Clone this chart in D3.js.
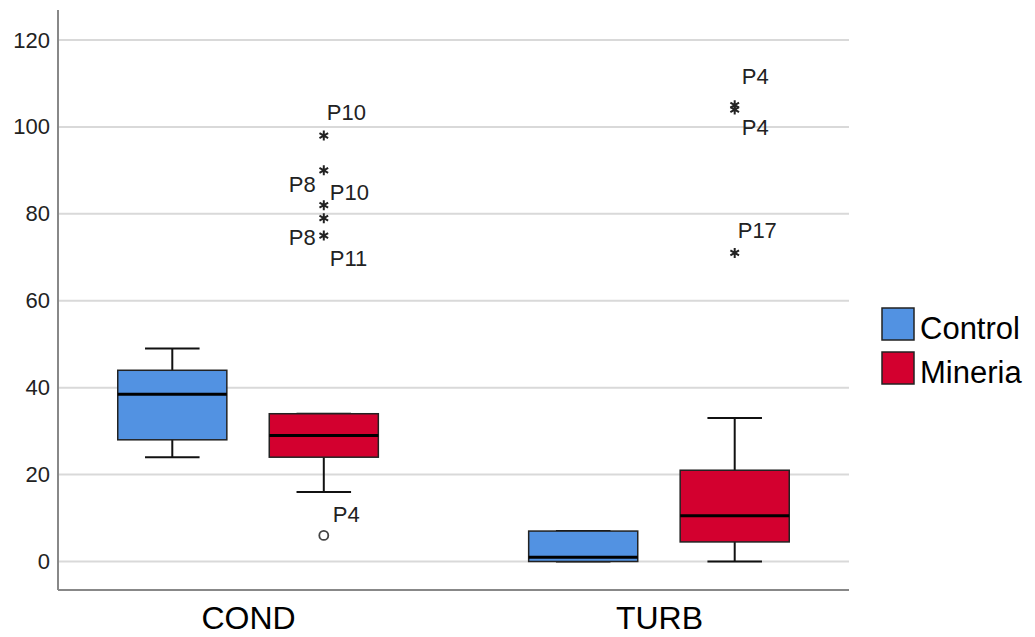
<!DOCTYPE html>
<html>
<head>
<meta charset="utf-8">
<script src="https://cdn.jsdelivr.net/npm/d3@7"></script>
<style>
  body { margin: 0; background: #fff; }
  svg { display: block; font-family: "Liberation Sans", Arial, sans-serif; }
</style>
</head>
<body>
<svg id="chart" width="1035" height="637"></svg>
<script>
// variables on the x axis and the two groups
const categories = ['COND', 'TURB'];
const groups = ['Control', 'Mineria'];
const groupColors = ['#5292e2', '#d3002f'];

// box stats per category: [lower whisker, q1, median, q3, upper whisker]
const controlBoxes = [[24, 28, 38.5, 44, 49], [0, 0, 1, 7, 7]];
const mineriaBoxes = [[16, 24, 29, 34, 34], [0, 4.5, 10.5, 21, 33]];

// outliers (circle) and extremes (star)
const outlierCats = ['COND'];
const outlierGroups = ['Mineria'];
const outlierValues = [6];
const outlierLabels = ['P4'];

const extremeCats = ['COND', 'COND', 'COND', 'COND', 'COND', 'TURB', 'TURB', 'TURB'];
const extremeGroups = ['Mineria', 'Mineria', 'Mineria', 'Mineria', 'Mineria', 'Mineria', 'Mineria', 'Mineria'];
const extremeValues = [98, 90, 82, 79, 75, 105, 104, 71];
const extremeLabels = ['P10', 'P8', 'P10', 'P8', 'P11', 'P4', 'P4', 'P17'];

const yTicks = [0, 20, 40, 60, 80, 100, 120];

// label placement next to each marker (layout only)
const outlierLabelPos = [{dx: 9, dy: -13, anchor: 'start'}];
const extremeLabelPos = [
  {dx: 3, dy: -16, anchor: 'start'},
  {dx: -8, dy: 22, anchor: 'end'},
  {dx: 6, dy: -5, anchor: 'start'},
  {dx: -8, dy: 27, anchor: 'end'},
  {dx: 6, dy: 30, anchor: 'start'},
  {dx: 7, dy: -21, anchor: 'start'},
  {dx: 7, dy: 25, anchor: 'start'},
  {dx: 3, dy: -15, anchor: 'start'}
];

const svg = d3.select('#chart');
const plotLeft = 58, plotRight = 849, plotTop = 10, plotBottom = 590;

const x = d3.scalePoint()
  .domain(categories)
  .range([plotLeft, plotRight])
  .padding(0.4625);

const step = 151.5;
const xg = d3.scaleBand()
  .domain(groups)
  .range([-step * 0.86, step * 0.86])
  .paddingInner(0.28)
  .paddingOuter(0);
const bw = xg.bandwidth();

const y = d3.scaleLinear()
  .domain([-6.56, 126.9])
  .range([plotBottom, plotTop]);

// gridlines
svg.append('g')
  .selectAll('line')
  .data(yTicks)
  .join('line')
    .attr('x1', plotLeft)
    .attr('x2', plotRight)
    .attr('y1', d => y(d))
    .attr('y2', d => y(d))
    .attr('stroke', '#d9d9d9')
    .attr('stroke-width', 2);

// y axis
const yAxis = svg.append('g')
  .attr('transform', `translate(${plotLeft},0)`)
  .call(d3.axisLeft(y).tickValues(yTicks).tickSize(0).tickPadding(8));
yAxis.select('.domain').remove();
yAxis.selectAll('text')
  .attr('font-size', '22px')
  .attr('fill', '#222')
  .attr('font-family', '"Liberation Sans", Arial, sans-serif');

svg.append('line')
  .attr('x1', plotLeft).attr('x2', plotLeft)
  .attr('y1', plotTop).attr('y2', plotBottom)
  .attr('stroke', '#888').attr('stroke-width', 2);

// x axis
const xAxis = svg.append('g')
  .attr('transform', `translate(0,${plotBottom})`)
  .call(d3.axisBottom(x).tickSize(0).tickPadding(16));
xAxis.select('.domain').remove();
xAxis.selectAll('text')
  .attr('font-size', '32px')
  .attr('fill', '#000')
  .attr('font-family', '"Liberation Sans", Arial, sans-serif');

svg.append('line')
  .attr('x1', plotLeft).attr('x2', plotRight)
  .attr('y1', plotBottom).attr('y2', plotBottom)
  .attr('stroke', '#888').attr('stroke-width', 2);

// boxes
const boxRows = [];
categories.forEach((c, i) => {
  boxRows.push({cat: c, group: 'Control', s: controlBoxes[i]});
  boxRows.push({cat: c, group: 'Mineria', s: mineriaBoxes[i]});
});

const boxG = svg.append('g')
  .selectAll('g')
  .data(boxRows)
  .join('g')
    .attr('transform', d => `translate(${x(d.cat) + xg(d.group) + bw / 2},0)`);

// whisker stems
boxG.append('line')
  .attr('x1', 0).attr('x2', 0)
  .attr('y1', d => y(d.s[0])).attr('y2', d => y(d.s[4]))
  .attr('stroke', '#111').attr('stroke-width', 2);

// whisker caps
boxG.selectAll('.cap')
  .data(d => [d.s[0], d.s[4]])
  .join('line')
    .attr('class', 'cap')
    .attr('x1', -bw / 4).attr('x2', bw / 4)
    .attr('y1', v => y(v)).attr('y2', v => y(v))
    .attr('stroke', '#111').attr('stroke-width', 2);

boxG.append('rect')
  .attr('x', -bw / 2)
  .attr('width', bw)
  .attr('y', d => y(d.s[3]))
  .attr('height', d => y(d.s[1]) - y(d.s[3]))
  .attr('fill', d => groupColors[groups.indexOf(d.group)])
  .attr('stroke', '#222')
  .attr('stroke-width', 1.5);

boxG.append('line')
  .attr('x1', -bw / 2).attr('x2', bw / 2)
  .attr('y1', d => y(d.s[2])).attr('y2', d => y(d.s[2]))
  .attr('stroke', '#000').attr('stroke-width', 3);

// mild outliers
const outG = svg.append('g')
  .selectAll('g')
  .data(outlierValues.map((v, i) => ({v, i})))
  .join('g')
    .attr('transform', d => `translate(${x(outlierCats[d.i]) + xg(outlierGroups[d.i]) + bw / 2},${y(d.v)})`);

outG.append('circle')
  .attr('r', 4.5)
  .attr('fill', '#fff')
  .attr('stroke', '#444')
  .attr('stroke-width', 1.8);

outG.append('text')
  .attr('x', d => outlierLabelPos[d.i].dx)
  .attr('y', d => outlierLabelPos[d.i].dy)
  .attr('text-anchor', d => outlierLabelPos[d.i].anchor)
  .attr('font-size', '22px')
  .attr('fill', '#222')
  .text(d => outlierLabels[d.i]);

// extremes
const starPath = (() => {
  const r = 5, p = d3.path();
  for (let k = 0; k < 3; k++) {
    const a = Math.PI / 2 + k * Math.PI / 3;
    p.moveTo(r * Math.cos(a), -r * Math.sin(a));
    p.lineTo(-r * Math.cos(a), r * Math.sin(a));
  }
  return p.toString();
})();

const extG = svg.append('g')
  .selectAll('g')
  .data(extremeValues.map((v, i) => ({v, i})))
  .join('g')
    .attr('transform', d => `translate(${x(extremeCats[d.i]) + xg(extremeGroups[d.i]) + bw / 2},${y(d.v)})`);

extG.append('path')
  .attr('d', starPath)
  .attr('stroke', '#222')
  .attr('stroke-width', 2)
  .attr('fill', 'none');

extG.append('text')
  .attr('x', d => extremeLabelPos[d.i].dx)
  .attr('y', d => extremeLabelPos[d.i].dy)
  .attr('text-anchor', d => extremeLabelPos[d.i].anchor)
  .attr('font-size', '22px')
  .attr('fill', '#222')
  .text(d => extremeLabels[d.i]);

// legend
const legend = svg.append('g')
  .attr('transform', 'translate(882,308)')
  .selectAll('g')
  .data(groups)
  .join('g')
    .attr('transform', (d, i) => `translate(0,${i * 44})`);

legend.append('rect')
  .attr('width', 32)
  .attr('height', 32)
  .attr('fill', (d, i) => groupColors[i])
  .attr('stroke', '#222')
  .attr('stroke-width', 1.5);

legend.append('text')
  .attr('x', 38)
  .attr('y', 31)
  .attr('font-size', '31px')
  .attr('fill', '#000')
  .text(d => d);
</script>
</body>
</html>
